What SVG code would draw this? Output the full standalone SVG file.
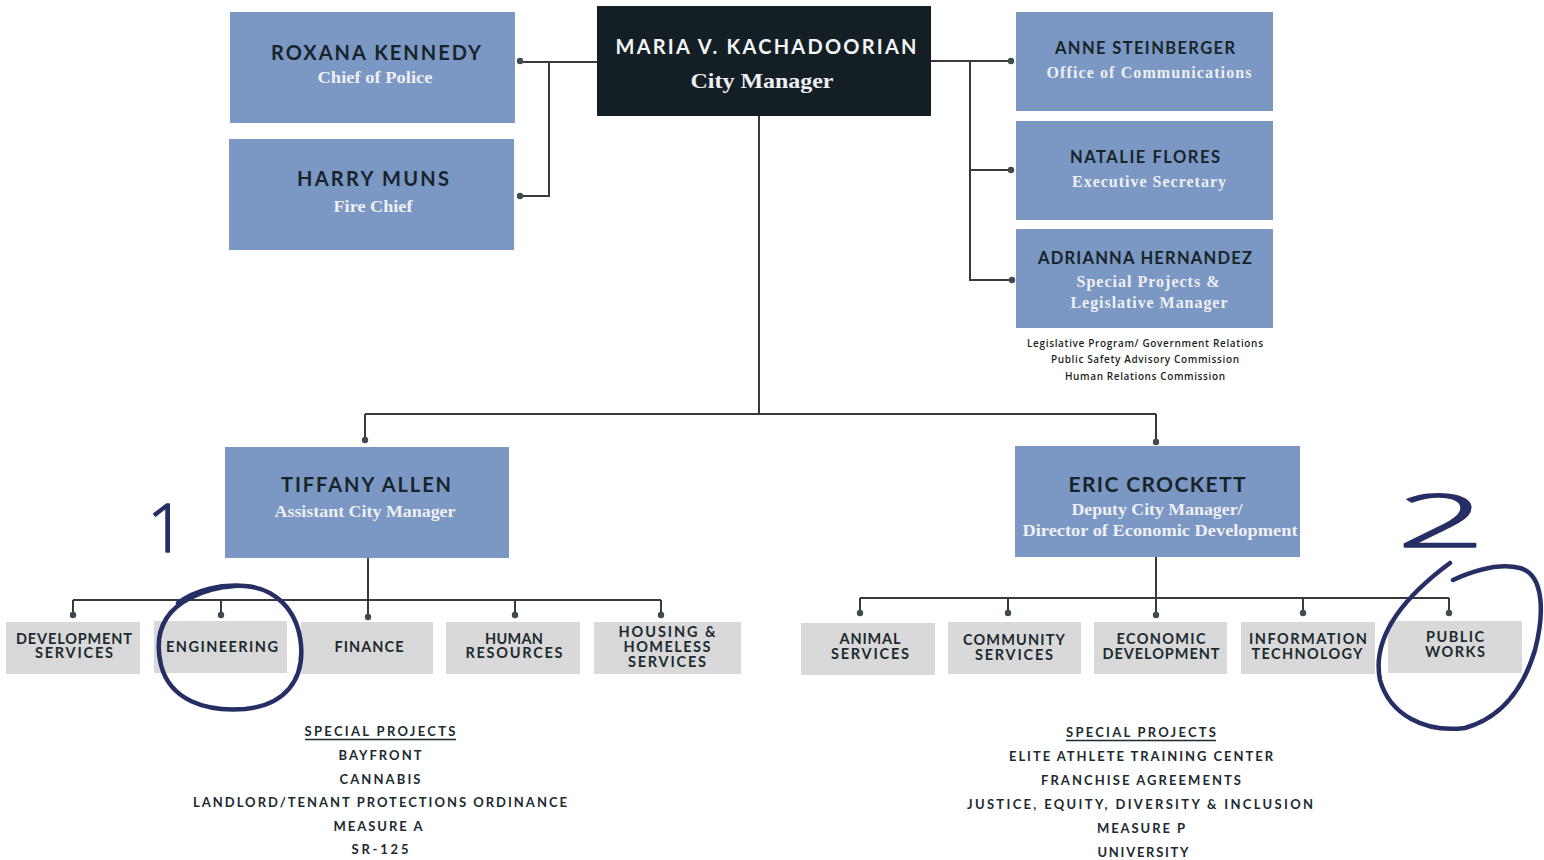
<svg xmlns="http://www.w3.org/2000/svg" width="1544" height="860" viewBox="0 0 1544 860">
<style>
.bx{fill:#7b97c3}
.dk{fill:#131f24}
.gy{fill:#d9d9d9}
.h{font-family:Lato,"Liberation Sans",sans-serif;font-weight:700;fill:#17252b;text-anchor:middle}
.hw{fill:#f4f5f7}
.s{font-family:"Liberation Serif",serif;font-weight:700;fill:#eef0f6;text-anchor:middle}
.d{font-family:Lato,"Liberation Sans",sans-serif;font-weight:700;font-size:14.5px;fill:#1d2b31;text-anchor:middle}
.n{font-family:"Open Sans","Liberation Sans",sans-serif;font-weight:600;font-size:10px;fill:#1b1f22;text-anchor:middle}
.p{font-family:Lato,"Liberation Sans",sans-serif;font-weight:700;font-size:13px;fill:#1d2a30;text-anchor:middle}
.ln{fill:none;stroke:#3a3a3a;stroke-width:2}
.dot{fill:#3d4b50}
.ink{fill:none;stroke:#252f66;stroke-width:4.5;stroke-linecap:round;stroke-linejoin:round}
.inkt{font-family:"Open Sans",Lato,sans-serif;font-weight:300;fill:#252f66;stroke:#252f66;stroke-linejoin:round;text-anchor:middle}
</style>

<g id="connectors">
  <path class="ln" d="M597 62 H520 M549 62 V196 H520"/>
  <path class="ln" d="M931 61 H1011 M970 61 V280 H1012 M970 170 H1011"/>
  <path class="ln" d="M759 116 V414 M365 414 H1156 M365 414 V440 M1156 414 V442"/>
  <path class="ln" d="M368 558 V600 M73 600 H661 M73 600 V615 M221 600 V615 M368 600 V617 M515 600 V615 M661 600 V615"/>
  <path class="ln" d="M1156 557 V598 M860 598 H1449 M860 598 V613 M1008 598 V613 M1156 598 V615 M1303 598 V613 M1449 598 V613"/>
  <circle class="dot" cx="520" cy="61" r="3.2"/>
  <circle class="dot" cx="520" cy="196" r="3.2"/>
  <circle class="dot" cx="1011" cy="61" r="3.2"/>
  <circle class="dot" cx="1011" cy="170" r="3.2"/>
  <circle class="dot" cx="1012" cy="280" r="3.2"/>
  <circle class="dot" cx="365" cy="440" r="3.2"/>
  <circle class="dot" cx="1156" cy="442" r="3.2"/>
  <circle class="dot" cx="73" cy="615" r="3.2"/>
  <circle class="dot" cx="221" cy="615" r="3.2"/>
  <circle class="dot" cx="368" cy="617" r="3.2"/>
  <circle class="dot" cx="515" cy="615" r="3.2"/>
  <circle class="dot" cx="661" cy="615" r="3.2"/>
  <circle class="dot" cx="860" cy="613" r="3.2"/>
  <circle class="dot" cx="1008" cy="613" r="3.2"/>
  <circle class="dot" cx="1156" cy="615" r="3.2"/>
  <circle class="dot" cx="1303" cy="613" r="3.2"/>
  <circle class="dot" cx="1449" cy="613" r="3.2"/>
</g>

<g id="maria">
  <rect class="dk" x="597" y="6" width="334" height="110"/>
  <text class="h hw" x="766" y="54" font-size="20" textLength="301" lengthAdjust="spacing">MARIA V. KACHADOORIAN</text>
  <text class="s" x="762" y="88" font-size="22" textLength="143" lengthAdjust="spacingAndGlyphs" fill="#f4f4f4">City Manager</text>
</g>

<g id="roxana">
  <rect class="bx" x="230" y="12" width="285" height="111"/>
  <text class="h" x="376" y="60" font-size="20" textLength="210" lengthAdjust="spacing">ROXANA KENNEDY</text>
  <text class="s" x="375" y="83" font-size="17" textLength="115" lengthAdjust="spacingAndGlyphs">Chief of Police</text>
</g>

<g id="harry">
  <rect class="bx" x="229" y="139" width="285" height="111"/>
  <text class="h" x="373" y="186" font-size="20" textLength="152" lengthAdjust="spacing">HARRY MUNS</text>
  <text class="s" x="373" y="212" font-size="17" textLength="79" lengthAdjust="spacingAndGlyphs">Fire Chief</text>
</g>

<g id="anne">
  <rect class="bx" x="1016" y="12" width="257" height="99"/>
  <text class="h" x="1145" y="54" font-size="16.5" textLength="180" lengthAdjust="spacing">ANNE STEINBERGER</text>
  <text class="s" x="1149" y="78" font-size="16" textLength="205" lengthAdjust="spacing">Office of Communications</text>
</g>

<g id="natalie">
  <rect class="bx" x="1016" y="121" width="257" height="99"/>
  <text class="h" x="1145" y="163" font-size="16.5" textLength="150" lengthAdjust="spacing">NATALIE FLORES</text>
  <text class="s" x="1149" y="187" font-size="16" textLength="154" lengthAdjust="spacing">Executive Secretary</text>
</g>

<g id="adrianna">
  <rect class="bx" x="1016" y="229" width="257" height="99"/>
  <text class="h" x="1145" y="264" font-size="16.5" textLength="214" lengthAdjust="spacing">ADRIANNA HERNANDEZ</text>
  <text class="s" x="1148" y="287" font-size="16" textLength="143" lengthAdjust="spacing">Special Projects &amp;</text>
  <text class="s" x="1149" y="308" font-size="16" textLength="157" lengthAdjust="spacing">Legislative Manager</text>
  <text class="n" x="1145" y="347" textLength="236" lengthAdjust="spacing">Legislative Program/ Government Relations</text>
  <text class="n" x="1145" y="363" textLength="188" lengthAdjust="spacing">Public Safety Advisory Commission</text>
  <text class="n" x="1145" y="380" textLength="160" lengthAdjust="spacing">Human Relations Commission</text>
</g>

<g id="tiffany">
  <rect class="bx" x="225" y="447" width="284" height="111"/>
  <text class="h" x="366" y="492" font-size="20" textLength="170" lengthAdjust="spacing">TIFFANY ALLEN</text>
  <text class="s" x="365" y="517" font-size="17" textLength="181" lengthAdjust="spacingAndGlyphs">Assistant City Manager</text>
</g>

<g id="eric">
  <rect class="bx" x="1015" y="446" width="285" height="111"/>
  <text class="h" x="1157" y="492" font-size="21" textLength="177" lengthAdjust="spacing">ERIC CROCKETT</text>
  <text class="s" x="1157" y="515" font-size="17" textLength="171" lengthAdjust="spacingAndGlyphs">Deputy City Manager/</text>
  <text class="s" x="1160" y="536" font-size="17" textLength="275" lengthAdjust="spacingAndGlyphs">Director of Economic Development</text>
</g>

<g id="dev-services">
  <rect class="gy" x="6" y="622" width="134" height="52"/>
  <text class="d" x="74" y="644" textLength="116" lengthAdjust="spacing">DEVELOPMENT</text>
  <text class="d" x="74" y="658" textLength="78" lengthAdjust="spacing">SERVICES</text>
</g>
<g id="engineering">
  <rect class="gy" x="154" y="621" width="133" height="52"/>
  <text class="d" x="222" y="652" textLength="112" lengthAdjust="spacing">ENGINEERING</text>
</g>
<g id="finance">
  <rect class="gy" x="301" y="622" width="132" height="52"/>
  <text class="d" x="369" y="652" textLength="69" lengthAdjust="spacing">FINANCE</text>
</g>
<g id="human-resources">
  <rect class="gy" x="446" y="622" width="134" height="52"/>
  <text class="d" x="514" y="644" textLength="58" lengthAdjust="spacing">HUMAN</text>
  <text class="d" x="514" y="658" textLength="97" lengthAdjust="spacing">RESOURCES</text>
</g>
<g id="housing">
  <rect class="gy" x="594" y="622" width="147" height="52"/>
  <text class="d" x="667" y="637" textLength="97" lengthAdjust="spacing">HOUSING &amp;</text>
  <text class="d" x="667" y="652" textLength="87" lengthAdjust="spacing">HOMELESS</text>
  <text class="d" x="667" y="667" textLength="78" lengthAdjust="spacing">SERVICES</text>
</g>

<g id="animal-services">
  <rect class="gy" x="801" y="623" width="134" height="52"/>
  <text class="d" x="870" y="644" textLength="61" lengthAdjust="spacing">ANIMAL</text>
  <text class="d" x="870" y="659" textLength="78" lengthAdjust="spacing">SERVICES</text>
</g>
<g id="community-services">
  <rect class="gy" x="948" y="622" width="133" height="52"/>
  <text class="d" x="1014" y="645" textLength="102" lengthAdjust="spacing">COMMUNITY</text>
  <text class="d" x="1014" y="660" textLength="78" lengthAdjust="spacing">SERVICES</text>
</g>
<g id="economic-development">
  <rect class="gy" x="1094" y="622" width="133" height="52"/>
  <text class="d" x="1161" y="644" textLength="89" lengthAdjust="spacing">ECONOMIC</text>
  <text class="d" x="1161" y="659" textLength="117" lengthAdjust="spacing">DEVELOPMENT</text>
</g>
<g id="information-technology">
  <rect class="gy" x="1241" y="622" width="134" height="52"/>
  <text class="d" x="1308" y="644" textLength="118" lengthAdjust="spacing">INFORMATION</text>
  <text class="d" x="1307" y="659" textLength="111" lengthAdjust="spacing">TECHNOLOGY</text>
</g>
<g id="public-works">
  <rect class="gy" x="1388" y="621" width="134" height="52"/>
  <text class="d" x="1455" y="642" textLength="58" lengthAdjust="spacing">PUBLIC</text>
  <text class="d" x="1455" y="657" textLength="60" lengthAdjust="spacing">WORKS</text>
</g>

<g id="special-projects-left">
  <text class="p" x="380" y="736" textLength="151" lengthAdjust="spacing">SPECIAL PROJECTS</text>
  <line x1="305" y1="739.5" x2="456" y2="739.5" stroke="#1d2a30" stroke-width="1.3"/>
  <text class="p" x="380" y="760" textLength="83" lengthAdjust="spacing">BAYFRONT</text>
  <text class="p" x="380" y="784" textLength="81" lengthAdjust="spacing">CANNABIS</text>
  <text class="p" x="380" y="807" textLength="374" lengthAdjust="spacing">LANDLORD/TENANT PROTECTIONS ORDINANCE</text>
  <text class="p" x="378" y="831" textLength="89" lengthAdjust="spacing">MEASURE A</text>
  <text class="p" x="380" y="854" textLength="57" lengthAdjust="spacing">SR-125</text>
</g>

<g id="special-projects-right">
  <text class="p" x="1141" y="737" textLength="150" lengthAdjust="spacing">SPECIAL PROJECTS</text>
  <line x1="1066" y1="740.5" x2="1216" y2="740.5" stroke="#1d2a30" stroke-width="1.3"/>
  <text class="p" x="1141" y="761" textLength="264" lengthAdjust="spacing">ELITE ATHLETE TRAINING CENTER</text>
  <text class="p" x="1141" y="785" textLength="200" lengthAdjust="spacing">FRANCHISE AGREEMENTS</text>
  <text class="p" x="1140" y="809" textLength="346" lengthAdjust="spacing">JUSTICE, EQUITY, DIVERSITY &amp; INCLUSION</text>
  <text class="p" x="1141" y="833" textLength="88" lengthAdjust="spacing">MEASURE P</text>
  <text class="p" x="1143" y="857" textLength="91" lengthAdjust="spacing">UNIVERSITY</text>
</g>

<g id="annotations">
  <text class="inkt" x="166" y="552" font-size="66" stroke-width="1.5">1</text>
  <path class="ink" d="M178 603 C195 590 220 584 245 586 C275 588 298 610 301 645 C304 680 285 705 245 709 C205 712 170 700 161 665 C154 635 163 612 190 598 C205 590 220 587 235 586"/>
  <text class="inkt" x="0" y="0" font-size="74" stroke-width="1.6" transform="translate(1441 547) scale(2.1 1)">2</text>
  <path class="ink" d="M1453 580 C1475 570 1500 563 1520 568 C1545 575 1544 615 1535 650 C1523 690 1500 718 1465 728 C1425 733 1390 715 1380 680 C1372 640 1400 600 1450 563"/>
</g>
</svg>
